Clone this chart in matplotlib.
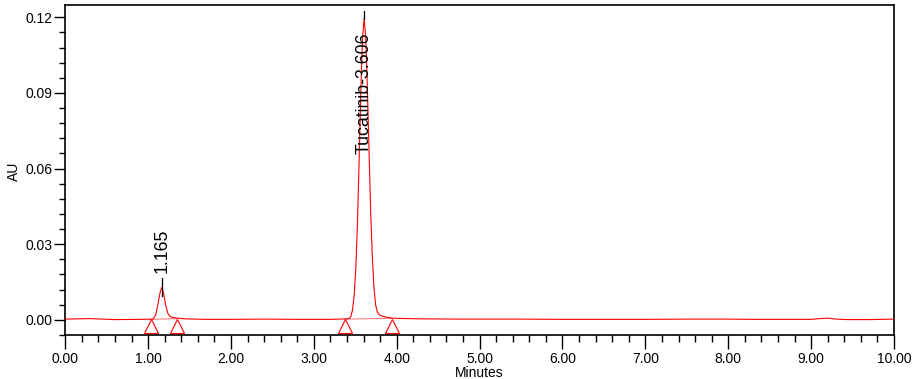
import matplotlib
matplotlib.use("Agg")
import matplotlib.pyplot as plt
from matplotlib.ticker import MultipleLocator, FormatStrFormatter

plt.rcParams["font.family"] = ["Liberation Sans", "DejaVu Sans"]

# ── Chromatogram trace (minutes, AU) ─────────────────────────────────────────
time = [
    0.00, 0.30, 0.60, 0.90, 1.05,
    1.06, 1.09, 1.12, 1.145, 1.165, 1.185, 1.21, 1.24, 1.27, 1.32, 1.38,
    1.45, 1.70, 2.00, 2.40, 2.80, 3.20,
    3.40, 3.43, 3.446, 3.466, 3.486, 3.506, 3.526, 3.546, 3.566, 3.586,
    3.606, 3.626, 3.646, 3.666, 3.686, 3.706, 3.726, 3.746, 3.766, 3.786,
    3.83, 3.90, 3.95,
    4.00, 4.30, 4.80, 5.50, 6.00, 6.60, 7.00, 7.50, 8.00, 8.30, 8.80,
    9.00, 9.10, 9.20, 9.30, 9.45, 9.70, 10.00,
]
au = [
    0.0003, 0.0005, 0.0001, 0.0002, 0.0003,
    0.0004, 0.0018, 0.0065, 0.0110, 0.0129, 0.0108, 0.0060, 0.0024, 0.0012, 0.0008, 0.0006,
    0.0004, 0.0002, 0.0002, 0.0003, 0.0002, 0.0002,
    0.0004, 0.0007, 0.0013, 0.0039, 0.0095, 0.0204, 0.0384, 0.0630, 0.0898, 0.1113,
    0.1195, 0.1123, 0.0913, 0.0663, 0.0423, 0.0243, 0.0123, 0.0058, 0.0031, 0.0021,
    0.0014, 0.0009, 0.0007,
    0.0006, 0.0004, 0.0003, 0.0003, 0.0002, 0.0002, 0.0002, 0.0003, 0.0003, 0.0002, 0.0002,
    0.0002, 0.0005, 0.0007, 0.0003, 0.0001, 0.0001, 0.0003,
]

# peak start / end marks (integration baseline)
peak_start = [1.035, 3.373]
peak_end = [1.353, 3.941]
start_au = [0.0002, 0.0003]
end_au = [0.0005, 0.0006]

# peak labels
peak_rt = [1.165, 3.606]
peak_top = [0.0095, 0.1195]
peak_names = ["1.165", "Tucatinib-3.606"]
label_base = [0.0185, 0.0659]
tick_top = [0.0165, 0.1225]

fig = plt.figure(figsize=(9.14, 3.79), dpi=100)
ax = fig.add_axes([0.0714, 0.1161, 0.9067, 0.8715])

ax.plot(time, au, color="#ff0000", lw=0.8, zorder=3)

# integration baselines
for s, e, sa, ea in zip(peak_start, peak_end, start_au, end_au):
    ax.plot([s, e], [sa, ea], color="#ff8080", lw=0.8, zorder=2)

# open triangles just under the baseline
ax.plot(peak_start + peak_end, [-0.0026] * 4, linestyle="none", marker="^",
        markersize=9.5, markerfacecolor="none", markeredgecolor="#ff0000",
        markeredgewidth=0.8, clip_on=False, zorder=4)

# label ticks and texts
for rt, top, name, lb, tt in zip(peak_rt, peak_top, peak_names, label_base, tick_top):
    ax.plot([rt, rt], [top, tt], color="black", lw=0.9, zorder=5)
    ax.text(rt, lb, name, rotation=90, ha="center", va="bottom",
            fontsize=12.8, color="black", zorder=6)

ax.set_xlim(0, 10)
ax.set_ylim(-0.006, 0.125)

ax.xaxis.set_major_locator(MultipleLocator(1.0))
ax.xaxis.set_minor_locator(MultipleLocator(0.2))
ax.xaxis.set_major_formatter(FormatStrFormatter("%.2f"))
ax.yaxis.set_major_locator(MultipleLocator(0.03))
ax.yaxis.set_minor_locator(MultipleLocator(0.006))
ax.yaxis.set_major_formatter(FormatStrFormatter("%.2f"))

ax.tick_params(axis="x", which="major", direction="out", length=10, width=1,
               labelsize=10, pad=2)
ax.tick_params(axis="x", which="minor", direction="out", length=5, width=1)
ax.tick_params(axis="y", which="major", direction="out", length=8, width=1,
               labelsize=10, pad=1)
ax.tick_params(axis="y", which="minor", direction="out", length=4, width=1)

for sp in ax.spines.values():
    sp.set_linewidth(1.2)
    sp.set_color("black")

ax.set_xlabel("Minutes", fontsize=10)
ax.xaxis.set_label_coords(0.5, -0.094)
ax.set_ylabel("AU", fontsize=10)
ax.yaxis.set_label_coords(-0.0535, 0.495)

fig.savefig("out.png", dpi=100)
plt.close(fig)
